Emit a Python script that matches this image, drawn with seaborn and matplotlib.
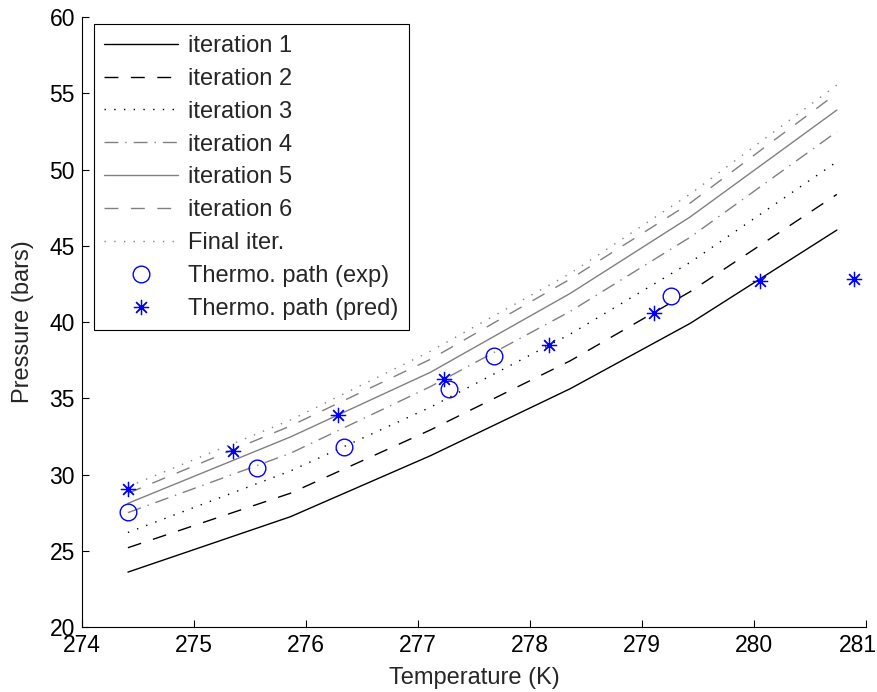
import matplotlib
matplotlib.use("Agg")
import matplotlib.pyplot as plt
from matplotlib.transforms import ScaledTranslation
import seaborn as sns

temp_iter = [274.41, 275.86, 277.11, 278.36, 279.43, 280.74]

iter_1 = [23.6, 27.23, 31.23, 35.63, 39.91, 46.03]
iter_2 = [25.2, 28.77, 32.92, 37.46, 41.99, 48.37]
iter_3 = [26.2, 30.23, 34.41, 39.21, 43.91, 50.51]
iter_4 = [27.5, 31.39, 35.76, 40.70, 45.56, 52.48]
iter_5 = [28.11, 32.46, 36.70, 41.88, 46.89, 53.9]
iter_6 = [28.77, 33.18, 37.55, 42.82, 47.80, 55.0]
iter_final = [29.2, 33.57, 38.08, 43.19, 48.39, 55.54]

# thermodynamic path, experimental
temp_exp = [274.41, 275.56, 276.34, 277.28, 277.68, 279.26]
press_exp = [27.56, 30.41, 31.78, 35.63, 37.77, 41.72]

# thermodynamic path, predicted
temp_pred = [274.41, 275.35, 276.29, 277.23, 278.17, 279.11, 280.05, 280.89]
press_pred = [29.03, 31.56, 33.88, 36.24, 38.47, 40.57, 42.69, 42.8]

labels = ["iteration 1", "iteration 2", "iteration 3", "iteration 4",
          "iteration 5", "iteration 6", "Final iter."]
series = [iter_1, iter_2, iter_3, iter_4, iter_5, iter_6, iter_final]

gray = (0.5, 0.5, 0.5)
dash = (0, (10, 9))
dot = (0, (1, 6))
dashdot = (0, (10, 5, 1, 5))
styles = [("black", "-"), ("black", dash), ("black", dot), (gray, dashdot),
          (gray, "-"), (gray, dash), (gray, dot)]

sns.set_style("ticks")
plt.rcParams["font.family"] = ["Liberation Sans", "DejaVu Sans"]
plt.rcParams["font.size"] = 17

fig = plt.figure(figsize=(8.78, 6.92), dpi=100)
ax = fig.add_axes([0.0934, 0.0939, 0.8929, 0.8815])

for vals, lab, (col, ls) in zip(series, labels, styles):
    sns.lineplot(x=temp_iter, y=vals, ax=ax, color=col, linestyle=ls,
                 linewidth=1.0, label=lab, sort=False, errorbar=None)

sns.lineplot(x=temp_exp, y=press_exp, ax=ax, linestyle="none", marker="o",
             markersize=12, markerfacecolor="none", markeredgecolor="blue",
             markeredgewidth=1.0, color="blue", label="Thermo. path (exp)",
             sort=False, errorbar=None)
sns.lineplot(x=temp_pred, y=press_pred, ax=ax, linestyle="none",
             marker=(8, 2, 0), markersize=11, markeredgecolor="blue",
             markeredgewidth=0.9, color="blue", label="Thermo. path (pred)",
             sort=False, errorbar=None)

ax.set_xlim(274, 281)
ax.set_ylim(20, 60)
ax.set_xticks(range(274, 282))
ax.set_yticks(range(20, 61, 5))
ax.set_xlabel("Temperature (K)", fontsize=17, labelpad=7)
ax.set_ylabel("Pressure (bars)", fontsize=17, labelpad=11)
ax.tick_params(direction="in", length=5, width=0.8, labelsize=16.5, pad=5,
               colors="black")
sns.despine(ax=ax)
for s in ["left", "bottom"]:
    ax.spines[s].set_color("black")
    ax.spines[s].set_linewidth(0.8)

# keep the last x tick label inside the figure edge
last = ax.get_xticklabels()[-1]
last.set_horizontalalignment("right")
last.set_transform(last.get_transform()
                   + ScaledTranslation(0.11, 0, fig.dpi_scale_trans))

leg = ax.legend(loc="upper left", bbox_to_anchor=(0.015, 0.988),
                fontsize=17, handlelength=3.1, handletextpad=0.45,
                labelspacing=0.46, borderpad=0.45, borderaxespad=0,
                fancybox=False, framealpha=1, edgecolor="black")
leg.get_frame().set_linewidth(0.8)

fig.savefig("out.png", dpi=100)
